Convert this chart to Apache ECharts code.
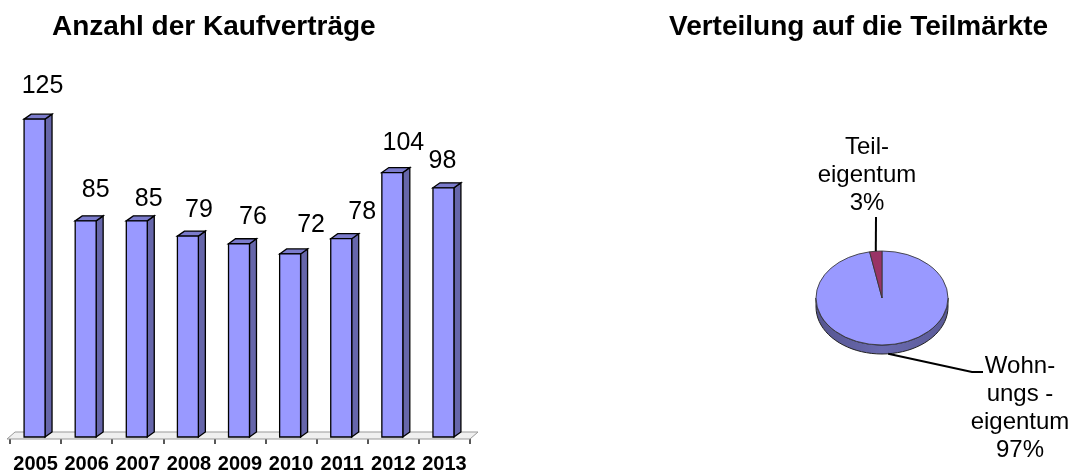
<!DOCTYPE html>
<html>
<head>
<meta charset="utf-8">
<script src="https://cdn.jsdelivr.net/npm/echarts@6/dist/echarts.min.js"></script>
<style>
  html, body { margin: 0; padding: 0; background: #fff; }
  #chart { width: 1069px; height: 476px; }
</style>
</head>
<body>
<div id="chart"></div>
<script>
// data
const years = ["2005", "2006", "2007", "2008", "2009", "2010", "2011", "2012", "2013"];
const contracts = [125, 85, 85, 79, 76, 72, 78, 104, 98];

const pieNames = ["Wohn-\nungs -\neigentum", "Teil-\neigentum"];
const pieValues = [97, 3];

// label nudges (dx from bar front centre, dy above bar top), like excel placed them
const labelNudge = [[8, 33], [10, 31], [12, 22], [11, 26], [14, 27], [21, 29], [21, 27], [11, 29], [-1, 27]];

const FONT = "'Liberation Sans', Arial, sans-serif";
const DEPTH_X = 7, DEPTH_Y = 5;

const PIE = { cx: 882, cy: 298, rx: 66, ry: 47, depth: 9 };
const pieColors = ["#9999ff", "#993366"];
const pieSideColors = ["#6a6ab0", "#662244"];
const pieLabelLayout = [
    { x: 1020, y: 352, line: [[972, 372], [983, 372]] },
    { x: 867, y: 133, line: [[876, 217]] }
];

const chart = echarts.init(document.getElementById("chart"), null, { renderer: "canvas" });

function renderBar(params, api) {
    const idx = params.dataIndex;
    const v = api.value(1);
    const top = api.coord([api.value(0), v]);
    const base = api.coord([api.value(0), 0]);
    const band = api.size([1, 0])[0];
    const w = band * 0.41;
    const cx = top[0] - 1;
    const x0 = cx - w / 2;
    const stroke = { stroke: "#000", lineWidth: 1.3 };

    const children = [];
    if (idx === 0) {
        const cs = params.coordSys;
        const by = cs.y + cs.height;
        children.push({
            type: "polygon",
            z2: 0,
            shape: { points: [[cs.x - 3, by + 2], [cs.x + cs.width, by + 2], [cs.x + cs.width + 8, by - 5], [cs.x + 5, by - 5]] },
            style: { fill: "#f0f0f0", stroke: "#999", lineWidth: 1 }
        });
    }
    children.push(
        {
            type: "polygon", z2: 5,
            shape: { points: [[x0 + w, top[1]], [x0 + w + DEPTH_X, top[1] - DEPTH_Y], [x0 + w + DEPTH_X, base[1] - DEPTH_Y], [x0 + w, base[1]]] },
            style: Object.assign({ fill: "#6666aa" }, stroke)
        },
        {
            type: "polygon", z2: 5,
            shape: { points: [[x0, top[1]], [x0 + DEPTH_X, top[1] - DEPTH_Y], [x0 + w + DEPTH_X, top[1] - DEPTH_Y], [x0 + w, top[1]]] },
            style: Object.assign({ fill: "#7b7bcc" }, stroke)
        },
        {
            type: "rect", z2: 6,
            shape: { x: x0, y: top[1], width: w, height: base[1] - top[1] },
            style: Object.assign({ fill: "#9999ff" }, stroke)
        },
        {
            type: "text", z2: 7,
            x: cx + labelNudge[idx][0],
            y: top[1] - labelNudge[idx][1],
            style: {
                text: String(v), fill: "#000", font: "25px " + FONT,
                align: "center", verticalAlign: "middle"
            }
        }
    );
    return { type: "group", children: children };
}

const pieTotal = pieValues.reduce((a, b) => a + b, 0);

function ellPt(a, dy) {
    return [PIE.cx + PIE.rx * Math.cos(a), PIE.cy + PIE.ry * Math.sin(a) + (dy || 0)];
}

function renderPie(params, api) {
    const i = params.dataIndex;
    let a0 = -Math.PI / 2;
    for (let j = 0; j < i; j++) a0 += pieValues[j] / pieTotal * Math.PI * 2;
    const a1 = a0 + api.value(0) / pieTotal * Math.PI * 2;
    const k = PIE.ry / PIE.rx;
    const children = [];

    // side band on the visible lower half
    [[0, Math.PI], [2 * Math.PI, 3 * Math.PI], [-2 * Math.PI, -Math.PI]].forEach(([lo, hi]) => {
        const s = Math.max(a0, lo), e = Math.min(a1, hi);
        if (e <= s) return;
        const pts = [];
        const n = 40;
        for (let t = 0; t <= n; t++) pts.push(ellPt(s + (e - s) * t / n, 0));
        for (let t = n; t >= 0; t--) pts.push(ellPt(s + (e - s) * t / n, PIE.depth));
        children.push({
            type: "polygon", z2: 1,
            shape: { points: pts },
            style: {
                fill: new echarts.graphic.LinearGradient(0, 0, 1, 0, [
                    { offset: 0, color: "#55558f" },
                    { offset: 0.5, color: pieSideColors[i] },
                    { offset: 1, color: "#5a5a96" }
                ]),
                stroke: "#222", lineWidth: 1
            }
        });
    });

    children.push({
        type: "group", z2: 10,
        x: PIE.cx, y: PIE.cy, scaleY: k,
        children: [{
            type: "sector", z2: 10,
            shape: { cx: 0, cy: 0, r: PIE.rx, r0: 0, startAngle: a0, endAngle: a1, clockwise: true },
            style: { fill: pieColors[i], stroke: "#333", lineWidth: 1 }
        }]
    });

    // label + leader line
    const mid = (a0 + a1) / 2;
    const lowerHalf = Math.sin(mid) > 0;
    const start = ellPt(mid, lowerHalf ? PIE.depth : 0);
    const lay = pieLabelLayout[i];
    const pct = Math.round(api.value(0) / pieTotal * 100);
    children.push({
        type: "polyline", z2: 12,
        shape: { points: [start].concat(lay.line) },
        style: { stroke: "#000", lineWidth: 2, fill: null }
    });
    children.push({
        type: "text", z2: 12,
        x: lay.x, y: lay.y,
        style: {
            text: pieNames[i] + "\n" + pct + "%", fill: "#000",
            font: "24px " + FONT, lineHeight: 28,
            align: "center", verticalAlign: "top"
        }
    });
    return { type: "group", children: children };
}

const option = {
    animation: false,
    title: [
        {
            text: "Anzahl der Kaufverträge", left: 52, top: 13, padding: 0,
            textStyle: { fontFamily: FONT, fontSize: 28, fontWeight: "bold", color: "#000" }
        },
        {
            text: "Verteilung auf die Teilmärkte", left: 669, top: 13, padding: 0,
            textStyle: { fontFamily: FONT, fontSize: 28, fontWeight: "bold", color: "#000" }
        }
    ],
    grid: { left: 10, top: 81, width: 460, bottom: 39, containLabel: false },
    xAxis: {
        type: "category",
        data: years,
        axisLine: { show: true, lineStyle: { color: "#999", width: 1 } },
        axisTick: { show: true, length: 7, lineStyle: { color: "#222", width: 1.5 } },
        axisLabel: { interval: 0, color: "#000", fontFamily: FONT, fontSize: 20, fontWeight: "bold", margin: 17 },
        splitLine: { show: false }
    },
    yAxis: {
        type: "value", min: 0, max: 140,
        show: false
    },
    series: [
        {
            name: "Kaufverträge",
            type: "custom",
            coordinateSystem: "cartesian2d",
            data: years.map((y, i) => [i, contracts[i]]),
            encode: { x: 0, y: 1 },
            renderItem: renderBar
        },
        {
            name: "Teilmärkte",
            type: "custom",
            coordinateSystem: "none",
            data: pieValues.map((v, i) => ({ name: pieNames[i], value: [v] })),
            renderItem: renderPie
        }
    ]
};

chart.setOption(option);
window.addEventListener("resize", chart.resize);
</script>
</body>
</html>
